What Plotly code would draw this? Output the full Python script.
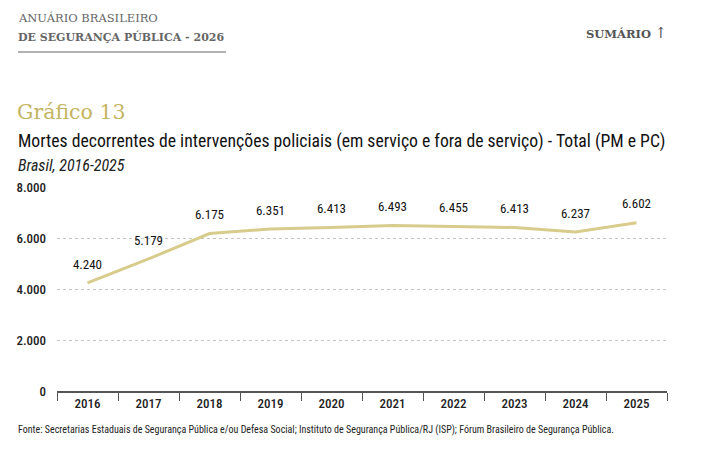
import plotly.graph_objects as go

# Data
anos = ['2016', '2017', '2018', '2019', '2020', '2021', '2022', '2023', '2024', '2025']
mortes = [4240, 5179, 6175, 6351, 6413, 6493, 6455, 6413, 6237, 6602]
rotulos = ['4.240', '5.179', '6.175', '6.351', '6.413', '6.493', '6.455', '6.413', '6.237', '6.602']
y_ticks = [0, 2000, 4000, 6000, 8000]
y_labels = ['0', '2.000', '4.000', '6.000', '8.000']

# page puts the plot 8px in from the corner, so work in shifted coordinates
OFF = 8
W, H = 725 - OFF, 455 - OFF
L, T = 57 - OFF, 187 - OFF
R = W - (667 - OFF)
B = H - (391 - OFF)

COND = 'Roboto Condensed, DejaVu Sans Condensed, sans-serif'
SERIF = 'DejaVu Serif, Liberation Serif, serif'
GOLD = '#d8cc8c'


# reference pixel position -> paper coords
def px(x):
	return (x - OFF - L) / (W - L - R)


def py(y):
	return (H - B - (y - OFF)) / (H - T - B)


fig = go.Figure()
# invisible markers only push the value labels a bit higher above the line
fig.add_trace(go.Scatter(x=anos, y=mortes, mode='lines+markers+text', text=rotulos,
                         textposition='top center',
                         textfont=dict(family=COND, size=13, color='#111'),
                         marker=dict(size=16, opacity=0),
                         line=dict(color=GOLD, width=3), cliponaxis=False,
                         hoverinfo='skip'))

annots = [
	dict(text='ANUÁRIO BRASILEIRO', x=px(16), y=py(18), size=11.5, fam=SERIF, col='#666'),
	dict(text='<b>DE SEGURANÇA PÚBLICA - 2026</b>', x=px(16), y=py(37), size=11, fam=SERIF, col='#666'),
	dict(text='<b>SUMÁRIO</b> <span style="font-size:15px">↑</span>', x=px(584), y=py(33), size=11.5, fam=SERIF, col='#555'),
	dict(text='Gráfico 13', x=px(15), y=py(112), size=20.5, fam=SERIF, col='#c4b462'),
	dict(text='Mortes decorrentes de intervenções policiais (em serviço e fora de serviço) - Total (PM e PC)',
	     x=px(16), y=py(142), size=17.7, fam=COND, col='#111'),
	dict(text='<i>Brasil, 2016-2025</i>', x=px(16), y=py(165), size=16, fam=COND, col='#222'),
	dict(text='Fonte: Secretarias Estaduais de Segurança Pública e/ou Defesa Social; Instituto de Segurança Pública/RJ (ISP); Fórum Brasileiro de Segurança Pública.',
	     x=px(16), y=py(430), size=10, fam=COND, col='#222'),
]
for a in annots:
	fig.add_annotation(text=a['text'], x=a['x'], y=a['y'], xref='paper', yref='paper',
	                   xanchor='left', yanchor='middle', showarrow=False,
	                   font=dict(family=a['fam'], size=a['size'], color=a['col']))

# header underline
fig.add_shape(type='line', xref='paper', yref='paper', x0=px(18), x1=px(226),
              y0=py(52), y1=py(52), line=dict(color='#666', width=1))

fig.update_layout(
	width=W, height=H, margin=dict(l=L, r=R, t=T, b=B),
	paper_bgcolor='white', plot_bgcolor='white', showlegend=False,
	separators=',.',
	xaxis=dict(type='category', range=[-0.5, len(anos) - 0.5],
	           tickson='boundaries', ticks='outside', ticklen=8,
	           tickcolor='#555', showline=True, linecolor='#555', linewidth=1.5,
	           showgrid=False, automargin=False,
	           tickfont=dict(family=COND, size=13, color='#222', weight=500)),
	yaxis=dict(range=[0, 8000], tickvals=y_ticks, ticktext=y_labels,
	           showgrid=True, gridcolor='#c4c4c4', griddash='dot', gridwidth=1,
	           zeroline=False, ticks='', ticklabelstandoff=10, automargin=False,
	           tickfont=dict(family=COND, size=13, color='#222', weight=500)),
)

fig.write_html('out.html')
